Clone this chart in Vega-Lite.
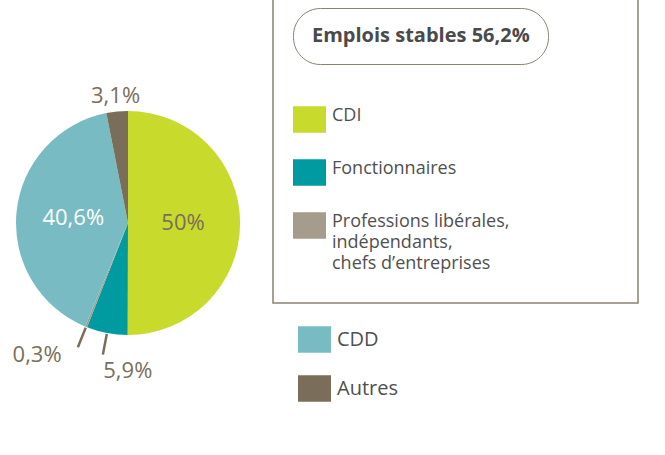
{
  "$schema": "https://vega.github.io/schema/vega-lite/v6.json",
  "width": 256,
  "height": 446,
  "autosize": {"type": "none"},
  "padding": {"left": 0, "top": 0, "right": 409, "bottom": 9},
  "background": "white",
  "config": {
    "view": {"stroke": null},
    "font": "Open Sans",
    "legend": {"labelFont": "Open Sans", "titleFont": "Open Sans", "labelColor": "#505050", "labelLimit": 400, "titleLimit": 1000}
  },
  "data": {
    "values": [
      {"cat": "CDI", "value": 50, "family": "Emplois stables 56,2%", "label": "50%", "order": 1},
      {"cat": "Fonctionnaires", "value": 5.9, "family": "Emplois stables 56,2%", "label": "5,9%", "order": 2},
      {"cat": "Professions libérales,\nindépendants,\nchefs d’entreprises", "value": 0.3, "family": "Emplois stables 56,2%", "label": "0,3%", "order": 3},
      {"cat": "CDD", "value": 40.6, "family": "Autres emplois", "label": "40,6%", "order": 4},
      {"cat": "Autres", "value": 3.1, "family": "Autres emplois", "label": "3,1%", "order": 5}
    ]
  },
  "transform": [
    {"stack": "value", "groupby": [], "sort": [{"field": "order", "order": "ascending"}], "as": ["v0", "v1"]},
    {"calculate": "(datum.v0 + datum.v1) / 2", "as": "mid"}
  ],
  "layer": [
    {
      "transform": [{"filter": "datum.family === 'Emplois stables 56,2%'"}],
      "mark": {"type": "arc", "outerRadius": 112},
      "encoding": {
        "theta": {"field": "v0", "type": "quantitative", "scale": {"domain": [0, 99.9]}},
        "theta2": {"field": "v1"},
        "color": {
          "field": "cat", "type": "nominal",
          "scale": {"domain": ["CDI", "Fonctionnaires", "Professions libérales,\nindépendants,\nchefs d’entreprises"], "range": ["#c8da2b", "#009ba1", "#a59c8d"]},
          "legend": {
            "orient": "none", "legendX": 273, "legendY": -26,
            "title": "Emplois stables 56,2%", "titleOpacity": 0, "titleFontSize": 28, "titleFontWeight": "bold", "titlePadding": 71,
            "padding": 30, "strokeColor": "#8b8272",
            "symbolType": "M-1,-0.8H1V0.8H-1Z", "symbolSize": 1089, "symbolStrokeWidth": 0, "symbolOpacity": 1, "symbolOffset": -10,
            "labelFontSize": 20, "labelOffset": 6, "rowPadding": 23,
            "labelExpr": "split(datum.label, '\\n')",
            "encode": {
              "legend": {"update": {"strokeWidth": {"value": 1.5}}},
              "labels": {"update": {
                "fontSize": {"condition": {"test": "datum.value === 'CDI' || datum.value === 'Fonctionnaires'", "value": 20}, "value": 18},
                "lineHeight": {"value": 21},
                "dy": {"condition": {"test": "datum.value === 'CDI' || datum.value === 'Fonctionnaires'", "value": 0}, "value": -4}
              }}
            }
          }
        },
        "opacity": {
          "field": "family", "type": "ordinal",
          "scale": {"range": [1, 1]},
          "legend": {
            "orient": "none", "legendX": 293, "legendY": 8, "title": null,
            "padding": 18, "cornerRadius": 27, "strokeColor": "#8b8272",
            "symbolSize": 0, "symbolOpacity": 0, "symbolStrokeWidth": 0, "labelOffset": -19,
            "labelFontWeight": "bold", "labelFontSize": 20, "labelColor": "#4a4a4a",
            "encode": {"legend": {"update": {"strokeWidth": {"value": 1.3}}}}
          }
        }
      }
    },
    {
      "transform": [{"filter": "datum.family === 'Autres emplois'"}],
      "mark": {"type": "arc", "outerRadius": 112},
      "encoding": {
        "theta": {"field": "v0", "type": "quantitative"},
        "theta2": {"field": "v1"},
        "color": {
          "field": "cat", "type": "nominal",
          "scale": {"domain": ["CDD", "Autres"], "range": ["#79bbc3", "#7a6e5a"]},
          "legend": {
            "orient": "none", "legendX": 298, "legendY": 323, "title": null, "padding": 0,
            "symbolType": "M-1,-0.8H1V0.8H-1Z", "symbolSize": 1089, "symbolStrokeWidth": 0, "symbolOpacity": 1,
            "labelFontSize": 20, "labelOffset": 6, "rowPadding": 19
          }
        }
      }
    },
    {
      "transform": [{"filter": "datum.label === '0,3%' || datum.label === '5,9%'"}],
      "mark": {"type": "arc", "innerRadius": 113, "outerRadius": 134, "stroke": "#7a6e5a", "strokeWidth": 2.5, "fill": null},
      "encoding": {
        "theta": {"field": "mid", "type": "quantitative"},
        "theta2": {"field": "mid"}
      }
    },
    {
      "transform": [{"filter": "datum.label === '50%'"}],
      "mark": {"type": "text", "radius": 55, "fontSize": 22, "color": "#7a6e5a", "baseline": "middle"},
      "encoding": {"theta": {"field": "mid", "type": "quantitative"}, "text": {"field": "label"}}
    },
    {
      "transform": [{"filter": "datum.label === '40,6%'"}],
      "mark": {"type": "text", "radius": 55, "fontSize": 22, "color": "white", "baseline": "middle"},
      "encoding": {"theta": {"field": "mid", "type": "quantitative"}, "text": {"field": "label"}}
    },
    {
      "transform": [{"filter": "datum.label === '3,1%'"}],
      "mark": {"type": "text", "radius": 128, "fontSize": 22, "color": "#7a6e5a", "baseline": "middle"},
      "encoding": {"theta": {"field": "mid", "type": "quantitative"}, "text": {"field": "label"}}
    },
    {
      "transform": [{"filter": "datum.label === '5,9%'"}],
      "mark": {"type": "text", "radius": 145, "dx": 27, "dy": 6, "fontSize": 22, "color": "#7a6e5a", "baseline": "middle"},
      "encoding": {"theta": {"field": "mid", "type": "quantitative"}, "text": {"field": "label"}}
    },
    {
      "transform": [{"filter": "datum.label === '0,3%'"}],
      "mark": {"type": "text", "radius": 160, "dx": -31, "dy": -16, "fontSize": 22, "color": "#7a6e5a", "baseline": "middle"},
      "encoding": {"theta": {"field": "mid", "type": "quantitative"}, "text": {"field": "label"}}
    }
  ],
  "resolve": {"scale": {"color": "independent"}}
}
